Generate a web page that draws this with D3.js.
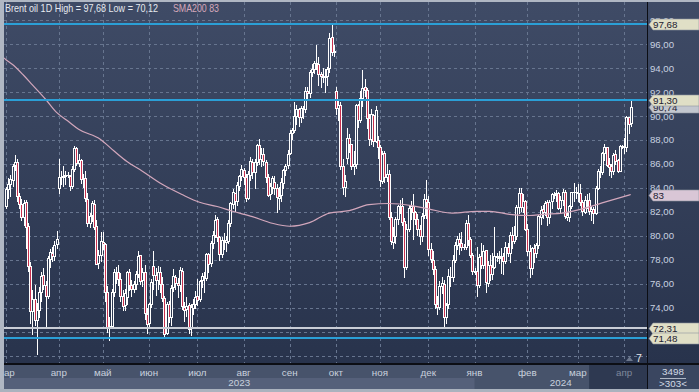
<!DOCTYPE html>
<html><head><meta charset="utf-8">
<script src="https://cdn.jsdelivr.net/npm/d3@7"></script>
<style>html,body{margin:0;padding:0;background:#b0b7c3;overflow:hidden}svg{display:block}</style>
</head><body><svg id="c" width="699" height="392"></svg>
<script>
const symbol = "Brent oil", timeframe = "1D";
const smaName = "SMA200", smaLabel = "83";
// daily candles per month: [open, high, low, close]
const mar23 = [[82.5,84.1,82.3,83.89],[83.9,84.8,83.2,84.31],[84.3,85.1,83.3,84.75],[84.7,86.0,84.2,85.83],[85.9,86.75,85.5,86.18],[86.2,86.4,82.9,83.29],[83.3,83.6,82.3,82.66],[82.7,83.1,81.3,81.59],[81.6,83.0,80.9,82.78],[82.8,83.0,79.0,80.77],[80.8,81.1,77.1,77.45],[77.5,77.8,72.7,73.69],[73.7,75.5,71.8,74.70],[74.7,75.9,72.6,72.97],[73.0,74.4,70.12,73.79],[73.8,75.7,73.2,75.32],[75.3,77.0,74.6,76.69],[76.7,77.3,75.6,75.91],[75.9,76.2,72.3,74.99],[75.0,78.3,74.8,78.12],[78.1,78.9,77.4,78.65],[78.6,79.1,77.9,78.28],[78.3,79.6,78.0,79.27],[79.3,80.4,79.0,79.77]];
const apr23 = [[84.0,86.44,83.55,84.93],[84.9,85.4,84.3,84.94],[84.9,85.8,84.2,84.99],[85.0,85.4,84.3,85.12],[85.1,85.3,84.9,85.10],[85.0,85.1,83.8,84.18],[84.2,85.8,84.0,85.61],[85.6,87.49,85.4,87.33],[87.3,87.4,85.9,86.09],[86.1,86.8,85.8,86.31],[86.3,86.4,84.4,84.76],[84.8,85.2,84.1,84.77],[84.8,85.4,82.9,83.12],[83.1,83.6,80.8,81.10],[81.1,81.9,80.7,81.66],[81.7,82.9,81.2,82.73],[82.7,83.0,80.6,80.77],[80.8,81.3,77.7,77.69],[77.7,78.8,77.3,78.37],[78.4,80.3,77.9,79.54]];
const may23 = [[79.5,80.35,78.9,79.31],[79.3,79.4,74.6,75.32],[75.3,75.8,71.98,72.33],[72.3,73.2,71.28,72.50],[72.5,75.6,72.3,75.30],[75.3,77.2,75.0,76.95],[77.0,77.4,76.1,77.01],[77.0,77.6,75.9,76.41],[76.4,76.9,74.6,74.98],[75.0,75.5,73.8,74.17],[74.2,75.6,73.8,75.23],[74.9,77.1,74.3,76.96],[77.0,77.2,75.5,75.86],[75.9,76.3,75.0,75.58],[75.6,76.2,75.3,75.99],[76.0,77.1,75.6,76.84],[76.8,78.7,76.6,78.36],[78.4,78.4,76.0,76.26],[76.3,77.3,75.8,76.95],[77.0,77.6,73.1,73.54],[73.5,74.0,71.9,72.66]];
const jun23 = [[72.7,74.4,72.5,74.28],[74.3,76.4,74.1,76.13],[77.5,78.73,75.6,76.71],[76.7,77.3,75.1,76.29],[76.3,77.5,75.6,76.95],[77.0,77.4,75.3,75.96],[76.0,76.6,74.6,74.79],[74.8,75.0,71.57,71.84],[71.9,74.5,71.8,74.29],[74.3,74.6,72.8,73.20],[73.2,75.9,72.6,75.67],[75.7,77.2,75.4,76.61],[76.6,76.7,75.6,76.09],[76.1,76.5,74.9,75.90],[75.9,77.4,75.4,77.12],[77.1,77.3,73.9,74.14],[74.1,74.5,72.9,73.85],[73.9,74.9,73.3,74.18],[74.2,74.4,71.9,72.26],[72.3,74.3,71.7,74.03],[74.0,74.7,73.5,74.34],[74.3,75.4,74.0,74.90]];
const jul23 = [[75.0,76.4,74.2,74.65],[74.7,76.3,74.6,76.25],[76.3,76.9,75.7,76.65],[76.6,77.0,75.3,76.52],[76.5,78.6,76.3,78.47],[78.5,78.6,77.0,77.69],[77.7,79.6,77.5,79.40],[79.4,80.4,79.0,80.11],[80.1,81.75,79.9,81.36],[81.4,81.6,79.6,79.87],[79.9,80.0,78.0,78.50],[78.5,79.9,78.2,79.63],[79.6,80.2,78.9,79.46],[79.5,80.0,78.7,79.64],[79.6,81.3,79.4,81.07],[81.1,82.8,80.8,82.74],[82.7,83.9,82.3,83.64],[83.6,83.6,82.1,82.92],[82.9,84.5,82.6,84.24],[84.2,85.1,83.8,84.99],[85.0,85.9,84.7,85.56]];
const aug23 = [[85.5,85.7,84.3,84.91],[84.9,85.2,82.9,83.20],[83.2,85.4,83.1,85.14],[85.1,86.6,84.7,86.24],[86.2,86.4,84.8,85.34],[85.3,86.4,84.0,86.17],[86.2,87.7,85.9,87.55],[87.6,88.1,86.0,86.40],[86.4,87.3,85.8,86.81],[86.8,87.3,85.9,86.21],[86.2,86.3,84.5,84.89],[84.9,85.2,83.3,83.45],[83.5,84.4,83.1,84.12],[84.1,85.0,83.6,84.80],[84.5,85.0,83.5,84.03],[84.0,84.3,82.0,83.21],[83.2,84.1,82.2,83.36],[83.4,84.8,82.9,84.48],[84.4,85.6,84.0,85.49],[85.5,86.0,85.1,85.86],[85.9,87.2,85.7,86.86]];
const sep23 = [[86.9,88.8,86.8,88.55],[88.6,89.0,88.1,88.80],[88.8,91.15,88.7,90.04],[90.0,90.9,89.3,90.60],[90.6,90.7,89.2,89.92],[89.9,90.8,89.5,90.65],[90.6,90.8,89.8,90.64],[90.6,92.4,90.3,92.06],[92.1,92.4,91.4,91.88],[91.9,93.8,91.6,93.70],[93.7,94.3,93.3,93.93],[93.9,94.6,93.6,94.43],[94.4,95.96,93.9,94.34],[94.3,94.9,92.6,93.53],[93.5,93.7,92.4,93.30],[93.3,94.0,92.8,93.27],[93.3,93.9,92.0,93.29],[93.3,94.1,92.6,93.96],[94.0,96.9,93.7,96.55],[96.6,97.68,95.1,95.38],[95.4,95.9,95.0,95.31]];
const oct23 = [[92.1,92.4,90.2,90.71],[90.7,91.4,89.7,90.92],[90.9,91.2,85.6,85.81],[85.8,86.4,83.5,84.07],[84.1,85.1,83.3,84.58],[86.5,89.0,86.1,88.15],[88.2,88.5,87.0,87.65],[87.7,87.7,85.6,85.82],[85.8,87.1,85.2,86.00],[86.0,91.0,85.7,90.89],[90.9,91.0,89.1,89.65],[89.7,92.1,89.5,91.50],[91.5,93.8,90.8,92.38],[92.4,93.1,91.7,92.16],[92.2,92.3,89.0,89.83],[89.8,90.2,87.6,88.07],[88.1,90.6,87.7,90.13],[90.1,90.2,87.5,87.93],[87.9,90.8,87.8,90.48],[88.0,88.3,86.5,87.41]];
const nov23 = [[87.4,87.6,84.2,84.63],[84.6,87.1,84.4,86.85],[86.9,87.1,84.5,84.89],[84.9,86.0,84.6,85.18],[85.2,85.5,81.4,81.61],[81.6,82.0,79.3,79.54],[79.5,80.7,79.0,80.01],[80.0,81.6,79.4,81.43],[81.4,82.6,81.0,82.52],[82.5,83.0,81.9,82.47],[82.5,83.2,80.9,81.18],[81.2,81.5,76.6,77.42],[77.4,81.0,77.2,80.61],[80.6,82.6,80.4,82.32],[82.3,82.9,81.4,82.45],[82.5,83.5,79.7,81.96],[82.0,82.1,81.0,81.42],[81.4,81.8,80.1,80.58],[80.6,80.9,79.3,79.98],[80.0,81.9,79.6,81.68],[81.7,83.5,81.5,83.10],[83.1,84.7,81.5,82.83]];
const dec23 = [[82.8,83.3,78.4,78.88],[78.9,79.4,77.8,78.03],[78.0,78.7,76.8,77.20],[77.2,77.5,74.0,74.30],[74.3,75.0,73.5,74.05],[74.1,76.2,73.9,75.84],[75.8,76.6,75.2,76.03],[76.0,76.3,72.29,73.24],[73.2,74.4,72.7,74.26],[74.3,77.2,74.0,76.61],[76.6,77.4,75.8,76.55],[76.6,78.4,76.2,77.95],[78.0,79.5,77.8,79.23],[79.2,80.0,78.9,79.70],[79.7,80.2,78.5,79.39],[79.4,80.3,78.8,79.07],[79.1,79.3,78.9,79.10],[79.1,81.3,78.9,81.07],[81.1,81.7,79.2,79.65],[79.7,79.9,78.2,78.39],[78.4,78.6,76.8,77.04]];
const jan24 = [[77.0,77.3,76.8,77.04],[77.1,79.1,75.0,75.89],[75.9,78.5,75.7,78.25],[78.3,79.4,77.3,77.59],[77.6,79.2,77.3,78.76],[78.8,78.8,75.3,76.12],[76.1,77.9,75.8,77.59],[77.6,78.4,76.3,76.80],[76.8,78.6,76.4,77.41],[77.4,80.75,77.3,78.29],[78.3,78.6,77.9,78.20],[78.2,78.7,77.7,78.15],[78.2,79.0,76.9,78.29],[78.3,78.6,76.8,77.88],[77.9,79.5,77.7,79.10],[79.1,79.4,78.3,78.56],[78.6,80.3,77.8,80.06],[80.1,80.7,79.0,79.55],[79.6,80.8,79.4,80.04],[80.0,82.6,79.7,82.43],[82.4,84.0,81.9,83.55],[83.6,84.0,82.1,82.40],[82.4,83.5,82.0,82.87],[82.9,83.0,80.5,80.55]];
const feb24 = [[80.6,81.0,78.4,78.70],[78.7,79.2,76.6,77.33],[77.3,79.1,76.8,78.99],[79.0,79.3,77.8,78.59],[78.6,79.4,78.2,79.21],[79.2,81.7,79.0,81.63],[81.6,82.5,81.0,82.19],[82.2,82.6,81.5,82.00],[82.0,82.9,81.7,82.77],[82.8,83.0,80.9,81.60],[81.6,83.0,81.1,82.86],[82.9,83.6,82.3,83.47],[83.5,83.7,83.2,83.40],[83.5,83.8,82.9,83.56],[83.6,83.7,82.2,82.34],[82.3,83.3,81.9,83.03],[83.0,83.9,82.6,83.67],[83.7,83.8,81.5,81.62],[81.6,81.9,81.3,81.70],[81.6,82.6,81.2,82.53],[82.5,83.7,82.3,83.65],[83.7,84.4,82.9,83.68],[83.7,84.1,83.2,83.62]];
const mar24 = [[83.6,84.3,82.9,83.55],[83.6,84.3,82.6,82.80],[82.8,83.0,81.7,82.04],[82.0,83.3,81.9,82.96],[83.0,83.5,82.3,82.96],[83.0,83.6,81.8,82.08],[82.1,82.5,81.3,82.21],[82.2,82.4,81.1,81.92],[81.9,84.2,81.8,84.03],[84.0,85.6,83.9,85.42],[85.4,85.8,84.9,85.34],[85.3,87.0,85.2,86.89],[86.9,87.7,86.3,87.38],[87.4,87.4,85.8,85.95],[86.0,86.5,85.1,85.78],[85.8,86.0,84.9,85.43],[85.4,86.9,85.2,86.75],[86.8,87.2,86.0,86.25],[86.3,86.4,85.3,85.41],[85.4,87.6,85.4,87.48],[87.5,87.6,87.3,87.48]];
const apr24 = [[87.4,88.2,86.9,87.42],[87.4,89.99,87.1,89.92],[89.9,89.95,88.6,89.35],[89.4,91.30,89.2,90.74]];

const monthLabels = ["мар","апр","май","июн","июл","авг","сен","окт","ноя","дек","янв","фев","мар","апр"];
const monthYears  = [2023,2023,2023,2023,2023,2023,2023,2023,2023,2023,2024,2024,2024,2024];
const monthSeries = [mar23,apr23,may23,jun23,jul23,aug23,sep23,oct23,nov23,dec23,jan24,feb24,mar24,apr24];

// SMA200: bar index -> value
const smaBar   = [-1,0,3,8,12,18,23,28,33,43,49,55,62,71,80,88,96,103,112,121,129,138,147,156,165,174,185,192,203,214,220,229,238,244,253,262,271,284];
const smaValue = [94.85,94.7,94.3,93.4,92.6,91.4,90.3,89.6,88.9,88.05,87.1,86.2,85.4,84.3,83.45,82.8,82.45,82.05,81.6,81.05,80.8,81.1,81.9,82.1,82.6,82.7,82.5,82.25,81.9,82.05,82.05,81.8,81.7,81.8,81.9,82.25,82.75,83.45];

const yTicks = [74,76,78,80,82,84,86,88,90,92,94,96,98];
const yGrid  = [70,72,74,76,78,80,82,84,86,88,90,92,94,96,98];
const blueLevels = [97.68, 91.30, 71.48];
const greyLevel = 72.31;
const lastPrice = 90.74;
const footerTop = "3498", footerBottom = ">303<", barsRight = "7";

// ---------- layout ----------
const W = 699, H = 392, L = 4, R = 647, T = 2, B = 363;
const FONT = "'Liberation Sans', Arial, sans-serif";
const svg = d3.select("#c");
const defs = svg.append("defs");
const grad = defs.append("linearGradient").attr("id","bg").attr("gradientUnits","userSpaceOnUse")
  .attr("x1",0).attr("y1",T).attr("x2",0).attr("y2",B);
grad.append("stop").attr("offset",0).attr("stop-color","#3f4b66");
grad.append("stop").attr("offset",1).attr("stop-color","#28334c");
defs.append("clipPath").attr("id","plotClip").append("rect").attr("x",L).attr("y",T).attr("width",R-L).attr("height",B-T);
defs.append("clipPath").attr("id","axisClip").append("rect").attr("x",L).attr("y",B).attr("width",R-L).attr("height",H-B);

// bars
const bars = [];
const monthStart = [];
monthSeries.forEach((m, mi) => {
  monthStart.push(bars.length);
  m.forEach(d => bars.push({o:d[0], h:d[1], l:d[2], c:d[3], m:mi}));
});
const N = bars.length;

const x = d3.scaleLinear().domain([-0.9, N - 1 + 7.4]).range([L, R]);
const y = d3.scaleLinear().domain([69.39, 99.515]).range([B, T]);

// frame & backgrounds
svg.append("rect").attr("width",W).attr("height",H).attr("fill","#b0b7c3");
svg.append("rect").attr("x",L).attr("y",T).attr("width",W-L).attr("height",B-T).attr("fill","url(#bg)");

// grid
const grid = svg.append("g").attr("clip-path","url(#plotClip)")
  .attr("stroke","#67758f").attr("stroke-dasharray","3,3").attr("stroke-width",1).attr("shape-rendering","crispEdges");
grid.selectAll("line.h").data(yGrid).join("line").attr("class","h")
  .attr("x1",L).attr("x2",R).attr("y1",d=>Math.round(y(d))+0.5).attr("y2",d=>Math.round(y(d))+0.5);
grid.selectAll("line.v").data(monthStart).join("line").attr("class","v")
  .attr("y1",T).attr("y2",B).attr("x1",d=>Math.round(x(d))+0.5).attr("x2",d=>Math.round(x(d))+0.5);

// candles
const cg = svg.append("g").attr("clip-path","url(#plotClip)").attr("shape-rendering","crispEdges");
const bar = cg.selectAll("g").data(bars).join("g");
bar.each(function(d, i){
  const g = d3.select(this);
  const cx = Math.round(x(i));
  const yH = Math.round(y(d.h)), yL = Math.round(y(d.l));
  const yT = Math.round(y(Math.max(d.o,d.c))), yB = Math.round(y(Math.min(d.o,d.c)));
  g.append("line").attr("x1",cx+0.5).attr("x2",cx+0.5).attr("y1",yH).attr("y2",yL+1)
    .attr("stroke","#ffffff").attr("stroke-width",1);
  g.append("rect").attr("x",cx-1).attr("y",yT).attr("width",3).attr("height",Math.max(1,yB-yT+1)).attr("fill","#ffffff");
  if (yB - yT >= 2) {
    g.append("rect").attr("x",cx).attr("y",yT+1).attr("width",1).attr("height",yB-yT-1)
      .attr("fill", d.c < d.o ? "#c8304e" : "url(#bg)");
  }
});

// SMA line
const smaPts = smaBar.map((b,i)=>[b, smaValue[i]]);
svg.append("path").attr("clip-path","url(#plotClip)")
  .attr("d", d3.line().x(d=>x(d[0])).y(d=>y(d[1])).curve(d3.curveMonotoneX)(smaPts))
  .attr("fill","none").attr("stroke","#d3a7bc").attr("stroke-width",1.2);

// level lines
const lv = svg.append("g").attr("clip-path","url(#plotClip)").attr("shape-rendering","crispEdges");
lv.append("line").attr("x1",L).attr("x2",R).attr("y1",Math.round(y(greyLevel))).attr("y2",Math.round(y(greyLevel)))
  .attr("stroke","#c9cdd6").attr("stroke-width",2);
lv.selectAll("line.b").data(blueLevels).join("line").attr("class","b")
  .attr("x1",L).attr("x2",R).attr("y1",d=>Math.round(y(d))).attr("y2",d=>Math.round(y(d)))
  .attr("stroke","#2b9fd6").attr("stroke-width",2);

// right axis labels
const fmt = v => d3.format(".2f")(v).replace(".", ",");
svg.append("g").selectAll("text").data(yTicks).join("text")
  .attr("x",650).attr("y",d=>y(d)+3.5).text(fmt)
  .attr("font-family",FONT).attr("font-size",9.6).attr("fill","#c9d2e0");

// price tags
function tag(v, txt, fill){
  const yy = Math.round(y(v)) + 0.5, h = 5.5;
  svg.append("path").attr("d",`M649,${yy} L653,${yy-h} L699,${yy-h} L699,${yy+h} L653,${yy+h} Z`)
    .attr("fill",fill).attr("stroke","#8d93a0").attr("stroke-width",0.6);
  svg.append("text").attr("x",653).attr("y",yy+3.8).text(txt)
    .attr("font-family",FONT).attr("font-size",9.8).attr("fill","#1d2030");
}
tag(blueLevels[0], fmt(blueLevels[0]), "#e0dfc6");
tag(lastPrice, fmt(lastPrice), "#c3c7cf");
tag(blueLevels[1], fmt(blueLevels[1]), "#e0dfc6");
tag(smaValue[smaValue.length-1], smaLabel, "#d9c6d6");
tag(greyLevel, fmt(greyLevel), "#e0dfc6");
tag(blueLevels[2], fmt(blueLevels[2]), "#e0dfc6");

// header
const hi = d3.max(bars, d=>d.h), lo = d3.min(bars, d=>d.l);
svg.append("text").attr("x",5).attr("y",12)
  .text(`${symbol} ${timeframe} High = ${fmt(hi)} Low = ${fmt(lo)}`)
  .attr("font-family",FONT).attr("font-size",10.5).attr("fill","#e6e9ef")
  .attr("textLength",153).attr("lengthAdjust","spacingAndGlyphs");
svg.append("text").attr("x",173).attr("y",12).text(`${smaName} ${smaLabel}`)
  .attr("font-family",FONT).attr("font-size",10.5).attr("fill","#d6a8bb")
  .attr("textLength",46).attr("lengthAdjust","spacingAndGlyphs");

// "bars to the right" marker
svg.append("path").attr("d","M626,361 L629.5,356.5 L633,361 Z").attr("fill","#6c778c");
svg.append("text").attr("x",636).attr("y",362).text(barsRight)
  .attr("font-family",FONT).attr("font-size",10.5).attr("fill","#e8e8ea");

// bottom axis strip
const janIdx = monthYears.indexOf(2024);
const xJan = x(monthStart[janIdx]);
svg.append("rect").attr("x",L).attr("y",B).attr("width",R-L).attr("height",H-B-3).attr("fill","#47536b");
svg.append("rect").attr("x",L).attr("y",378).attr("width",xJan-L).attr("height",11).attr("fill","#55607a");
const lastM = monthStart[monthStart.length-1];
svg.append("rect").attr("x",x(lastM)-35).attr("y",B+1).attr("width",R-(x(lastM)-35)).attr("height",H-B-4).attr("fill","#2e3951");
svg.append("rect").attr("x",R).attr("y",B).attr("width",W-R).attr("height",H-B-3).attr("fill","#3a4660");
svg.append("rect").attr("x",0).attr("y",H-3).attr("width",W).attr("height",3).attr("fill","#aab2be");
svg.append("rect").attr("x",L).attr("y",B).attr("width",W-L).attr("height",2).attr("fill","#0c0e14");
svg.append("rect").attr("x",R).attr("y",T).attr("width",1).attr("height",H-T-3).attr("fill","#0c0e14");

const ax = svg.append("g").attr("clip-path","url(#axisClip)");
ax.selectAll("text.m").data(monthStart).join("text").attr("class","m")
  .attr("x",d=>x(d)).attr("y",376).attr("text-anchor","middle")
  .text((d,i)=>monthLabels[i])
  .attr("font-family",FONT).attr("font-size",9.8)
  .attr("fill",(d,i)=> i===monthStart.length-1 ? "#7e889b" : "#c9d1dd");
const years = [[2023, L, xJan],[2024, xJan, R]];
ax.selectAll("text.y").data(years).join("text").attr("class","y")
  .attr("x",d=>(d[1]+d[2])/2).attr("y",386).attr("text-anchor","middle").text(d=>d[0])
  .attr("font-family",FONT).attr("font-size",9.8).attr("fill","#c9d1dd");

// footer box
svg.append("text").attr("x",673).attr("y",375).attr("text-anchor","middle").text(footerTop)
  .attr("font-family",FONT).attr("font-size",9.8).attr("fill","#d3dae5");
svg.append("line").attr("x1",660).attr("x2",686).attr("y1",378.5).attr("y2",378.5).attr("stroke","#aeb6c4").attr("stroke-width",1);
svg.append("text").attr("x",673).attr("y",387).attr("text-anchor","middle").text(footerBottom)
  .attr("font-family",FONT).attr("font-size",9.8).attr("fill","#d3dae5");
</script></body></html>
